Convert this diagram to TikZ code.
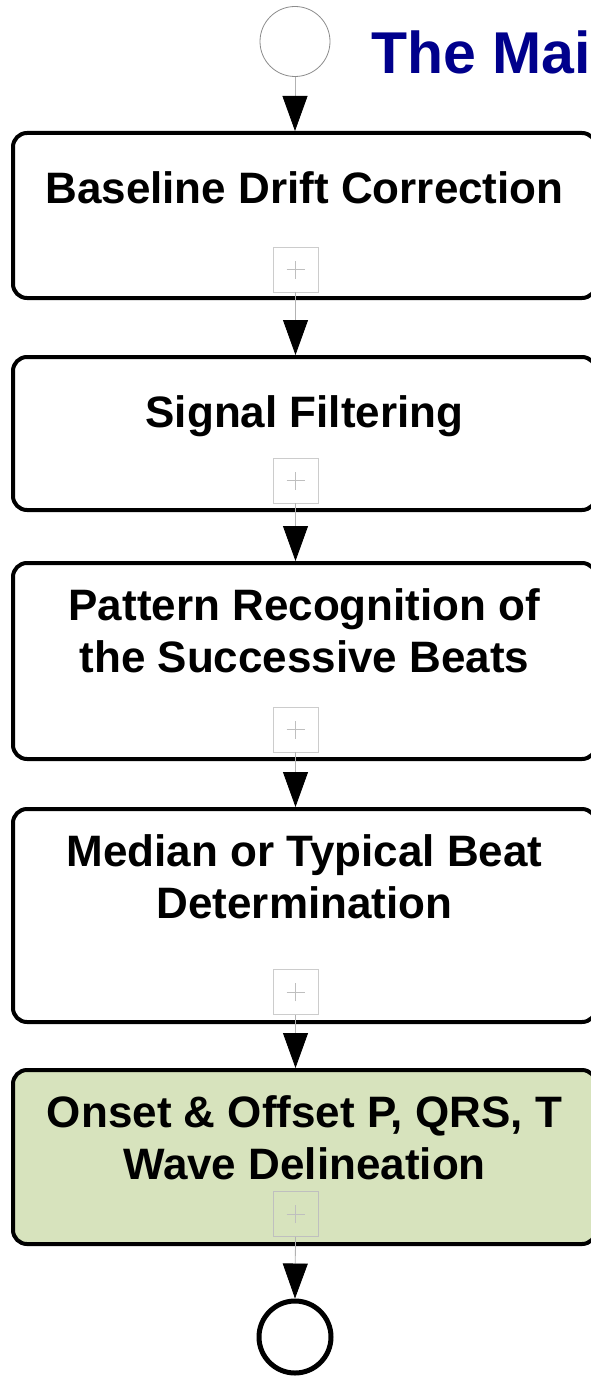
\documentclass[tikz,border=0pt]{standalone}
\usepackage{fontspec}
\setmainfont{Liberation Sans}
\usetikzlibrary{arrows.meta}
\definecolor{titleblue}{RGB}{0,0,140}
\definecolor{taskgreen}{RGB}{215,227,189}
\tikzset{
  taskbox/.style={draw=black, line width=4pt, rounded corners=14pt, fill=white, minimum width=583pt, inner sep=0pt},
  tasktext/.style={font=\fontsize{44pt}{52pt}\selectfont\bfseries, align=center, anchor=north, inner sep=0pt, text height=31.5pt, text depth=0pt},
  plusbox/.style={draw=black!20, line width=0.8pt, minimum size=45pt, inner sep=0pt,
    path picture={\draw[black!25, line width=0.6pt]
      ([xshift=-9pt]path picture bounding box.center) -- ([xshift=9pt]path picture bounding box.center)
      ([yshift=-9pt]path picture bounding box.center) -- ([yshift=9pt]path picture bounding box.center);}},
  conn/.style={draw=black!30, line width=0.8pt, -{Triangle[width=25pt,length=35pt,color=black,fill=black]}},
  startev/.style={circle, draw=black!45, line width=0.8pt, minimum size=70pt, inner sep=0pt},
  endev/.style={circle, draw=black, line width=5pt, minimum size=72pt, inner sep=0pt},
}
\begin{document}
\begin{tikzpicture}[x=1pt, y=-1pt]
\useasboundingbox (0,0) rectangle (591,1378);
\clip (0,0) rectangle (591,1378);
\fill[white] (0,0) rectangle (591,1378);

% title
\node[anchor=base west, inner sep=0pt, text=titleblue, font=\fontsize{59pt}{70pt}\selectfont\bfseries] (title) at (371,74) {The Mai};

% events
\node[startev] (s) at (295,41.5) {};
\node[endev] (e) at (295,1337) {};

% tasks
\node[taskbox, minimum height=165pt] (b1) at (304.5,215.5) {};
\node[taskbox, minimum height=153pt] (b2) at (304.5,433.5) {};
\node[taskbox, minimum height=196pt] (b3) at (304.5,661) {};
\node[taskbox, minimum height=213pt] (b4) at (304.5,915.5) {};
\node[taskbox, minimum height=174pt, fill=taskgreen] (b5) at (304.5,1157) {};

\node[tasktext] (t1) at (304.5,171.5) {Baseline Drift Correction};
\node[tasktext] (t2) at (304.5,395.5) {Signal Filtering};
\node[tasktext] (t3) at (304.5,640.5) {Pattern Recognition of\\the Successive Beats};
\node[tasktext] (t4) at (304.5,886.5) {Median or Typical Beat\\Determination};
\node[tasktext] (t5) at (304.5,1147.5) {Onset \& Offset P, QRS, T\\Wave Delineation};

% collapsed-subprocess markers
\node[plusbox] (p1) at (295.5,269.5) {};
\node[plusbox] (p2) at (295.5,480.5) {};
\node[plusbox] (p3) at (295.5,729.5) {};
\node[plusbox] (p4) at (295.5,992) {};
\node[plusbox, draw=black!25] (p5) at (295.5,1214) {};

% connectors
\draw[conn] (s.south) -- (s.south |- b1.north);
\draw[conn] (p1.south) -- (p1.south |- b2.north);
\draw[conn] (p2.south) -- (p2.south |- b3.north);
\draw[conn] (p3.south) -- (p3.south |- b4.north);
\draw[conn] (p4.south) -- (p4.south |- b5.north);
\draw[conn] (p5.south) -- (e.north);
\end{tikzpicture}
\end{document}
